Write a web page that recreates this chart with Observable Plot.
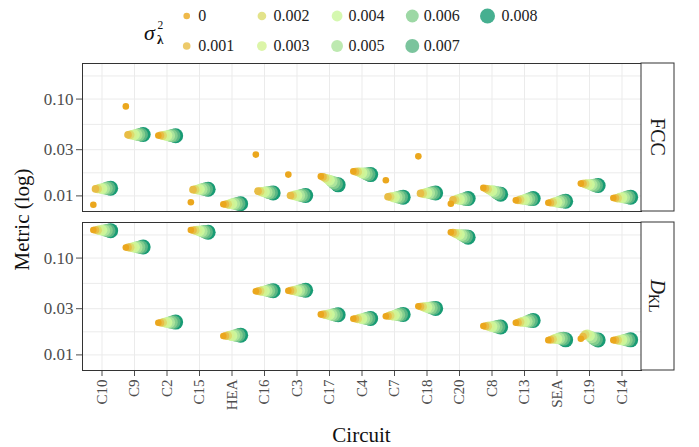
<!DOCTYPE html>
<html><head><meta charset="utf-8">
<script src="https://cdn.jsdelivr.net/npm/d3@7"></script>
<script src="https://cdn.jsdelivr.net/npm/@observablehq/plot@0.6"></script>
<style>
body{margin:0;background:#fff;}
#chart{width:699px;height:447px;position:relative;}
#chart svg{display:block;}
#chart svg, #chart svg text{font-family:"Liberation Serif","Times New Roman",Times,serif !important;}
#chart [aria-label="x-axis tick label"]{font-size:15px;}
#chart [aria-label="y-axis tick label"]{font-size:17px;}
</style></head><body><div id="chart"></div>
<script>
// ---- data ----
const circuits = ["C10","C9","C2","C15","HEA","C16","C3","C17","C4","C7","C18","C20","C8","C13","SEA","C19","C14"];
const sigmas = [0, 0.001, 0.002, 0.003, 0.004, 0.005, 0.006, 0.007, 0.008];
const sigmaLabels = ["0","0.001","0.002","0.003","0.004","0.005","0.006","0.007","0.008"];
const palette = ["#EBA71D","#E8BD45","#DCDC6D","#D3F292","#CAF69C","#ACE39C","#84CE8E","#5AB584","#189B74"];
const facets = ["FCC","DKL"];

// FCC, one array per sigma (order of circuits)
const fccS0 = [0.0081,0.084,0.0421,0.0086,0.0082,0.0267,0.0166,0.0159,0.0179,0.0145,0.0256,0.0083,0.0121,0.0090,0.0085,0.0134,0.0095];
const fccS1 = [0.0118,0.0427,0.0421,0.0116,0.0082,0.0112,0.0101,0.0157,0.0178,0.0098,0.0106,0.0091,0.0119,0.0090,0.0085,0.0134,0.0095];
const fccS2 = [0.0118,0.0427,0.0420,0.0116,0.0082,0.0111,0.0101,0.0153,0.0177,0.0098,0.0106,0.0091,0.0117,0.0091,0.0086,0.0133,0.0095];
const fccS3 = [0.0119,0.0428,0.0420,0.0116,0.0082,0.0110,0.0101,0.0149,0.0175,0.0097,0.0106,0.0092,0.0115,0.0091,0.0086,0.0132,0.0096];
const fccS4 = [0.0119,0.0428,0.0420,0.0117,0.0083,0.0110,0.0101,0.0145,0.0173,0.0097,0.0107,0.0092,0.0113,0.0092,0.0086,0.0131,0.0096];
const fccS5 = [0.0119,0.0428,0.0419,0.0117,0.0083,0.0109,0.0101,0.0141,0.0171,0.0097,0.0107,0.0093,0.0111,0.0092,0.0087,0.0130,0.0096];
const fccS6 = [0.0120,0.0429,0.0419,0.0117,0.0083,0.0108,0.0101,0.0137,0.0169,0.0097,0.0107,0.0093,0.0108,0.0093,0.0087,0.0129,0.0097];
const fccS7 = [0.0120,0.0429,0.0419,0.0117,0.0083,0.0108,0.0101,0.0133,0.0167,0.0097,0.0107,0.0093,0.0106,0.0093,0.0088,0.0128,0.0097];
const fccS8 = [0.0120,0.0430,0.0418,0.0117,0.0083,0.0107,0.0101,0.0130,0.0166,0.0097,0.0107,0.0094,0.0104,0.0094,0.0088,0.0128,0.0097];

// D_KL, one array per sigma
const dklS0 = [0.195,0.1285,0.0215,0.195,0.0157,0.0454,0.0460,0.0262,0.0236,0.0251,0.0318,0.185,0.0199,0.0215,0.0142,0.0147,0.0142];
const dklS1 = [0.195,0.1288,0.0215,0.194,0.0157,0.0455,0.0461,0.0262,0.0236,0.0252,0.0316,0.183,0.0198,0.0216,0.0143,0.0155,0.0142];
const dklS2 = [0.194,0.1290,0.0216,0.193,0.0158,0.0456,0.0461,0.0261,0.0236,0.0254,0.0314,0.180,0.0198,0.0218,0.0145,0.0162,0.0142];
const dklS3 = [0.194,0.1292,0.0216,0.192,0.0158,0.0457,0.0462,0.0261,0.0237,0.0255,0.0312,0.178,0.0197,0.0219,0.0146,0.0163,0.0142];
const dklS4 = [0.194,0.1293,0.0216,0.191,0.0158,0.0458,0.0462,0.0261,0.0237,0.0257,0.0310,0.175,0.0196,0.0221,0.0147,0.0158,0.0143];
const dklS5 = [0.193,0.1295,0.0217,0.189,0.0159,0.0459,0.0463,0.0260,0.0237,0.0258,0.0308,0.172,0.0196,0.0222,0.0148,0.0152,0.0143];
const dklS6 = [0.193,0.1297,0.0217,0.188,0.0159,0.0460,0.0464,0.0260,0.0238,0.0260,0.0306,0.169,0.0195,0.0224,0.0148,0.0147,0.0143];
const dklS7 = [0.192,0.1298,0.0218,0.186,0.0160,0.0460,0.0464,0.0260,0.0238,0.0261,0.0304,0.167,0.0195,0.0225,0.0147,0.0144,0.0143];
const dklS8 = [0.192,0.1300,0.0218,0.185,0.0160,0.0461,0.0465,0.0260,0.0238,0.0262,0.0302,0.164,0.0194,0.0227,0.0143,0.01425,0.0143];

const yTicks = [0.01, 0.03, 0.1];
const yMinor = [0.01732, 0.05477, 0.1732];

// ---- table ----
const series = {FCC: [fccS0,fccS1,fccS2,fccS3,fccS4,fccS5,fccS6,fccS7,fccS8],
                DKL: [dklS0,dklS1,dklS2,dklS3,dklS4,dklS5,dklS6,dklS7,dklS8]};
const rows = [];
for (const m of facets) {
  series[m].forEach((arr, si) => {
    arr.forEach((v, ci) => rows.push({metric: m, circuit: circuits[ci], ci, si, sigma: sigmas[si], value: v}));
  });
}
const dodgeWidth = 0.6;
const dodge = d => d.ci + (d.si - (sigmas.length - 1) / 2) * dodgeWidth / sigmas.length;

const W = 699, legendH = 55, H = 447 - legendH;
const rScale = {type: "linear", domain: [0, 0.008], range: [3.3, 7.5]};
const FONT = "'Liberation Serif', 'Times New Roman', serif";

// ---- legend ----
const chart = d3.select("#chart");
const leg = chart.append("svg").attr("width", W).attr("height", legendH);
leg.append("text").attr("x", 144).attr("y", 40).attr("font-size", 22).attr("font-style", "italic").attr("fill", "#111").text("σ");
leg.append("text").attr("x", 157.5).attr("y", 29).attr("font-size", 11.5).attr("fill", "#111").text("2");
leg.append("text").attr("x", 157).attr("y", 44).attr("font-size", 13).attr("font-weight", "bold").attr("fill", "#111").text("λ");
const rLeg = d3.scaleLinear(rScale.domain, rScale.range);
sigmas.forEach((s, i) => {
  const col = Math.floor(i / 2), row = i % 2;
  const cx = 186.7 + col * 75.2, cy = row ? 46 : 16;
  leg.append("circle").attr("cx", cx).attr("cy", cy).attr("r", rLeg(s)).attr("fill", palette[i]).attr("fill-opacity", 0.8);
  leg.append("text").attr("x", cx + 11.5 + (i === 8 ? 2.5 : 0)).attr("y", cy).attr("dy", "0.34em")
    .attr("font-size", 16).attr("fill", "#222").text(sigmaLabels[i]);
});

// ---- plot ----
const plot = Plot.plot({
  width: W, height: H,
  marginLeft: 82, marginRight: 58, marginTop: 8, marginBottom: 76,
  style: {fontFamily: FONT, fontSize: "17px", color: "#4d4d4d", background: "white", overflow: "visible"},
  facet: {data: rows, y: "metric"},
  fy: {domain: facets, axis: null, label: null, paddingInner: 0.069, paddingOuter: 0},
  x: {type: "linear", domain: [-0.6, circuits.length - 0.4], ticks: d3.range(circuits.length),
      tickFormat: i => circuits[i], tickRotate: -90, tickSize: 6, tickPadding: 3, label: null},
  y: {type: "log", domain: [0.0069, 0.233], ticks: yTicks, tickFormat: d3.format(".2f"),
      tickSize: 6, tickPadding: 3, label: null},
  r: rScale,
  color: {type: "ordinal", domain: sigmas, range: palette},
  marks: [
    Plot.ruleY([...yTicks, ...yMinor], {stroke: "#ebebeb", strokeWidth: 1}),
    Plot.ruleX(d3.range(circuits.length), {stroke: "#ebebeb", strokeWidth: 1}),
    Plot.dot(rows, {x: dodge, y: "value", r: "sigma", fill: "sigma", fillOpacity: 1, stroke: null}),
    Plot.frame({stroke: "#333", strokeWidth: 1})
  ]
});
chart.node().appendChild(plot);

// ---- strips & titles ----
const svg = d3.select(plot.tagName.toLowerCase() === "svg" ? plot : plot.querySelector("svg"));
const xs = plot.scale("x"), fys = plot.scale("fy");
const xr = xs.range;
const bw = fys.bandwidth;
facets.forEach(k => {
  const top = fys.apply(k);
  svg.append("rect").attr("x", xr[1]).attr("y", top).attr("width", 33).attr("height", bw)
    .attr("fill", "white").attr("stroke", "#333").attr("stroke-width", 1);
  const t = svg.append("text").attr("text-anchor", "middle").attr("dominant-baseline", "central")
    .attr("transform", `translate(${xr[1] + 16.5},${top + bw / 2}) rotate(90)`)
    .attr("font-size", 20).attr("fill", "#1a1a1a");
  if (k === "DKL") {
    t.append("tspan").attr("font-style", "italic").text("D");
    t.append("tspan").attr("font-size", 14).attr("dy", 4).text("KL");
  } else t.text(k);
});
svg.append("text").attr("transform", `translate(29,${(fys.apply(facets[0]) + fys.apply(facets[1]) + bw) / 2 + 3}) rotate(-90)`)
  .attr("text-anchor", "middle").attr("font-size", 21).attr("fill", "#111").text("Metric (log)");
svg.append("text").attr("x", (xr[0] + xr[1]) / 2).attr("y", H - 5)
  .attr("text-anchor", "middle").attr("font-size", 21).attr("fill", "#111").text("Circuit");
</script></body></html>
